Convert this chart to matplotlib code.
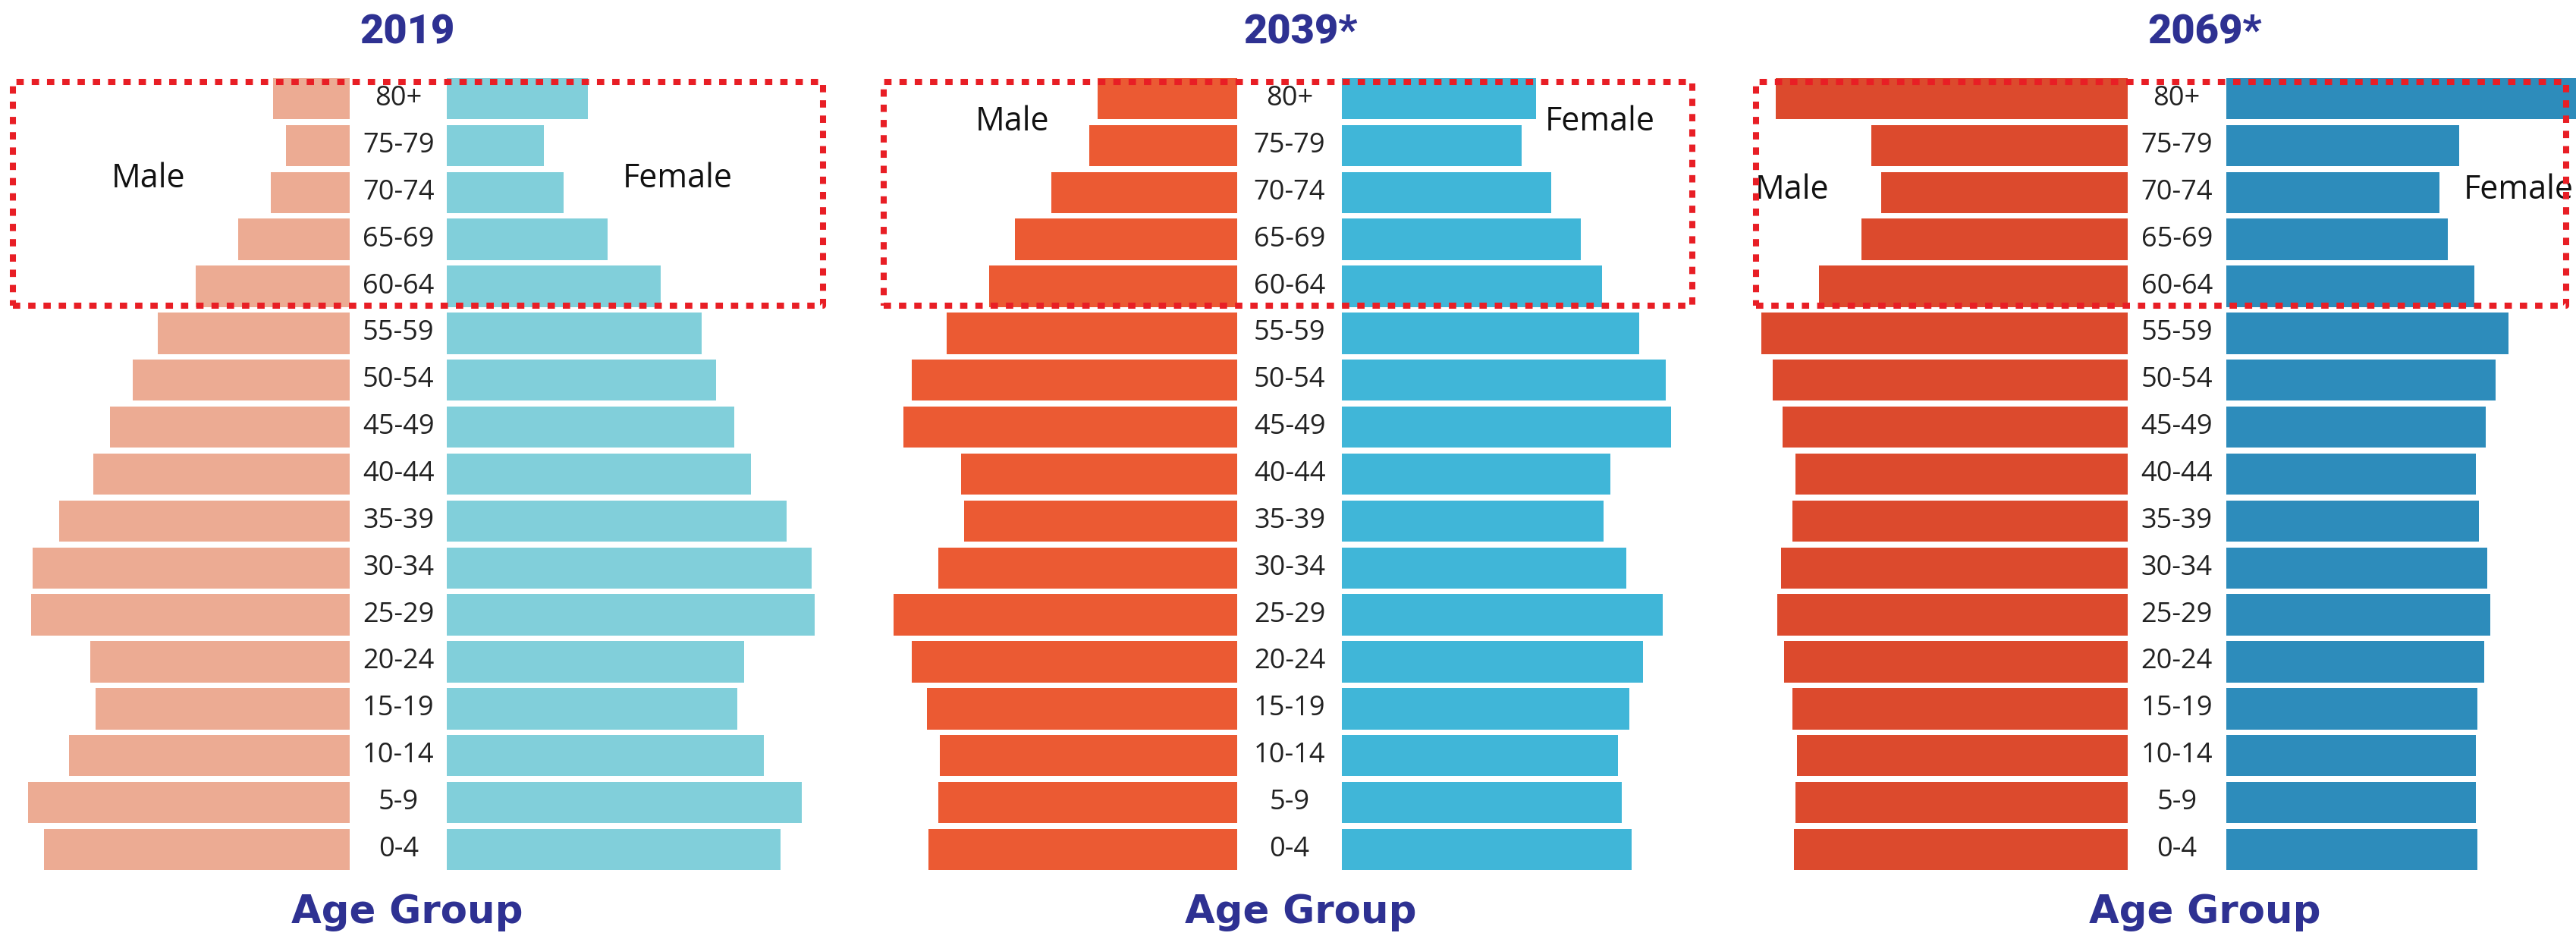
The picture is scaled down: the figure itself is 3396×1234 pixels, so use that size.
import matplotlib.pyplot as plt
from matplotlib.patches import Rectangle

# age groups from youngest (bottom) to oldest (top)
age_groups = ['0-4', '5-9', '10-14', '15-19', '20-24', '25-29', '30-34', '35-39',
              '40-44', '45-49', '50-54', '55-59', '60-64', '65-69', '70-74', '75-79', '80+']

# bar lengths (relative units, no axis in the original)
male_2019 = [186, 196, 171, 155, 158, 194, 193, 177, 156, 146, 132, 117, 94, 68, 48, 39, 47]
female_2019 = [203, 216, 193, 177, 181, 224, 222, 207, 185, 175, 164, 155, 130, 98, 71, 59, 86]

male_2039 = [188, 182, 181, 189, 198, 209, 182, 166, 168, 203, 198, 177, 151, 135, 113, 90, 85]
female_2039 = [176, 170, 168, 175, 183, 195, 173, 159, 163, 200, 197, 181, 158, 145, 127, 109, 118]

male_2069 = [203, 202, 201, 204, 209, 213, 211, 204, 202, 210, 216, 223, 188, 162, 150, 156, 214]
female_2069 = [153, 152, 152, 153, 157, 161, 159, 154, 152, 158, 164, 172, 151, 135, 130, 142, 225]

titles = ['2019', '2039*', '2069*']

W, H = 1568, 570  # layout grid used for placing panels
title_col = '#2E3192'
box_col = '#E81E25'

fig = plt.figure(figsize=(33.96, 12.34), dpi=100)

panels = [
    # data, colours, axes span on the grid, centre, half gap, label spots, box, title x
    (male_2019, female_2019, '#ECAB93', '#81CFDA', (0, 530), 242.5, 29.5,
     (-152, 14.3), (170, 14.3), (8, 501), 0.158),
    (male_2039, female_2039, '#EB5A33', '#40B6D8', (535, 1050), 785, 32,
     (-169, 15.5), (189, 15.5), (538, 1030), 0.505),
    (male_2069, female_2069, '#DC4A2D', '#2D8CBB', (1060, 1568), 1325, 30,
     (-234, 14.05), (208, 14.05), (1069, 1562), 0.856),
]

ypos = list(range(len(age_groups)))
bottom = 1 - 1157 / 1234
top = 1 - 93 / 1234

for i, (male, female, mcol, fcol, span, centre, gap, mpos, fpos, box, xc) in enumerate(panels):
    ax = fig.add_axes([span[0] / W, bottom, (span[1] - span[0]) / W, top - bottom])
    ax.barh(ypos, [-m for m in male], left=-gap, height=0.88, color=mcol)
    ax.barh(ypos, female, left=gap, height=0.88, color=fcol)
    ax.set_xlim(span[0] - centre, span[1] - centre)
    ax.set_ylim(-0.6, 16.6)
    ax.axis('off')

    # age labels in the gap
    for y, lab in zip(ypos, age_groups):
        ax.text(0, y, lab, ha='center', va='center', fontsize=26,
                family='Open Sans', color='#222222')

    ax.text(mpos[0], mpos[1], 'Male', ha='center', va='center', fontsize=31,
            family='Open Sans', color='#111111')
    ax.text(fpos[0], fpos[1], 'Female', ha='center', va='center', fontsize=31,
            family='Open Sans', color='#111111')

    # titles above and below
    fig.text(xc, 0.965, titles[i], ha='center', va='center', fontsize=39,
             fontweight='black', family='Roboto', color=title_col)
    fig.text(xc, 0.025, 'Age Group', ha='center', va='center', fontsize=37,
             fontweight='bold', family='DejaVu Sans', color=title_col)

    # dotted highlight box round the older age groups
    x0, x1 = box[0] / W, box[1] / W
    y0, y1 = 1 - 403 / 1234, 1 - 108 / 1234
    rect = Rectangle((x0, y0), x1 - x0, y1 - y0, transform=fig.transFigure,
                     fill=False, edgecolor=box_col, linewidth=5.8,
                     linestyle=(0, (1.2, 1.3)), joinstyle='round')
    fig.add_artist(rect)

fig.savefig('out.png', dpi=100, facecolor='white')
